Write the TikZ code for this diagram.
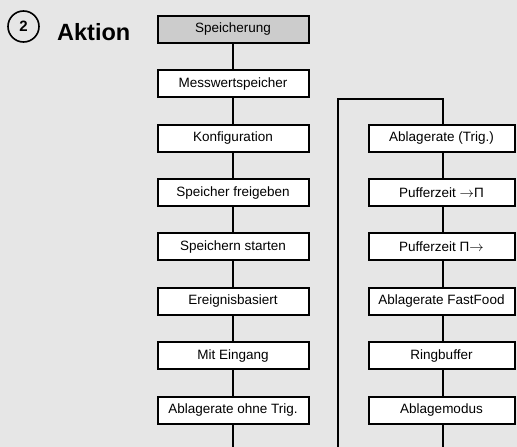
\documentclass[tikz,border=0pt]{standalone}
\usepackage{fontspec}
\setmainfont{Liberation Sans}
\newcommand{\rarr}{\ensuremath{\rightarrow}}
\definecolor{bgcol}{HTML}{E6E6E6}
\definecolor{headcol}{HTML}{CCCCCC}
\begin{document}
\begin{tikzpicture}[x=1pt,y=-1pt,
  menubox/.style={draw=black, line width=2pt, fill=white, minimum height=27pt, inner sep=0pt, font=\fontsize{13.5}{15}\selectfont},
  leftbox/.style={menubox, minimum width=151pt},
  rightbox/.style={menubox, minimum width=146pt},
  conn/.style={line width=2pt}]
\fill[bgcol] (0,0) rectangle (517,447);
\useasboundingbox (0,0) rectangle (517,447);
% header
\node[draw=black, line width=1.6pt, circle, minimum size=31pt, inner sep=0pt, font=\bfseries\fontsize{15}{16}\selectfont] (num) at (23.5,26.5) {2};
\node[anchor=base west, inner sep=0pt, font=\bfseries\fontsize{23.5}{26}\selectfont] (title) at (57,40) {Aktion};
% left column
\def\pitch{54.36}
\node[leftbox, fill=headcol] (l0) at (233,29.5) {Speicherung};
\node[leftbox] (l1) at (233,29.5+1*\pitch) {Messwertspeicher};
\node[leftbox] (l2) at (233,29.5+2*\pitch) {Konfiguration};
\node[leftbox] (l3) at (233,29.5+3*\pitch) {Speicher freigeben};
\node[leftbox] (l4) at (233,29.5+4*\pitch) {Speichern starten};
\node[leftbox] (l5) at (233,29.5+5*\pitch) {Ereignisbasiert};
\node[leftbox] (l6) at (233,29.5+6*\pitch) {Mit Eingang};
\node[leftbox] (l7) at (233,29.5+7*\pitch) {Ablagerate ohne Trig.};
\coordinate (lend) at (233,447);
% right column
\node[rightbox] (r1) at (441.5,29.5+2*\pitch) {Ablagerate (Trig.)};
\node[rightbox] (r2) at (441.5,29.5+3*\pitch) {Pufferzeit \rarr Π};
\node[rightbox] (r3) at (441.5,29.5+4*\pitch) {Pufferzeit Π\rarr};
\node[rightbox] (r4) at (441.5,29.5+5*\pitch) {Ablagerate FastFood};
\node[rightbox] (r5) at (441.5,29.5+6*\pitch) {Ringbuffer};
\node[rightbox] (r6) at (441.5,29.5+7*\pitch) {Ablagemodus};
\coordinate (rend) at (443,447);
\coordinate (mbot) at (337.5,447);
\coordinate (mtop) at (337.5,98.5);
% left connectors
\foreach \a/\b in {l0/l1,l1/l2,l2/l3,l3/l4,l4/l5,l5/l6,l6/l7}
  \draw[conn] (\a.south) -- (\b.north);
\draw[conn] (l7.south) -- (lend);
% loop connector
\draw[conn] (mbot) -- (mtop) -| ([xshift=1.5pt]r1.north);
% right connectors
\foreach \a/\b in {r1/r2,r2/r3,r3/r4,r4/r5,r5/r6}
  \draw[conn] ([xshift=1.5pt]\a.south) -- ([xshift=1.5pt]\b.north);
\draw[conn] ([xshift=1.5pt]r6.south) -- (rend);
\end{tikzpicture}
\end{document}
